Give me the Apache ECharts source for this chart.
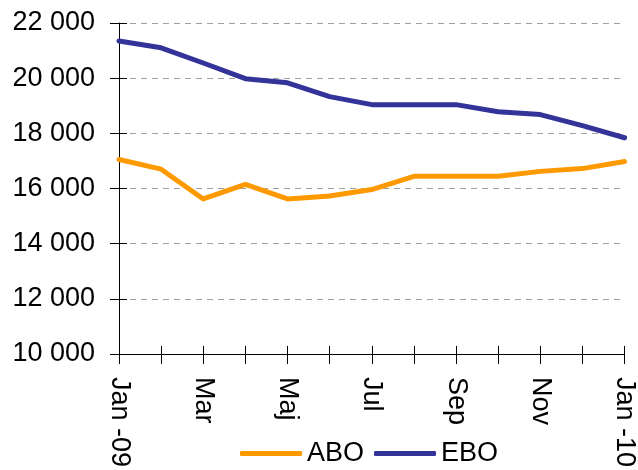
<!DOCTYPE html>
<html>
<head>
<meta charset="utf-8">
<script src="https://cdn.jsdelivr.net/npm/echarts@6/dist/echarts.min.js"></script>
<style>html,body{margin:0;padding:0;background:#fff}#c{width:638px;height:470px}</style>
</head>
<body>
<div id="c"></div>
<script>
var categories = ['Jan -09','Feb','Mar','Apr','Maj','Jun','Jul','Aug','Sep','Okt','Nov','Dec','Jan -10'];
var aboValues = [17050, 16700, 15620, 16150, 15620, 15730, 15960, 16440, 16440, 16440, 16620, 16720, 16980];
var eboValues = [21350, 21100, 20550, 19980, 19830, 19330, 19040, 19040, 19040, 18780, 18680, 18280, 17840];
var yMin = 10000, yMax = 22000, yStep = 2000;

var font = 'Liberation Sans, Arial, sans-serif';
function fmt(v){ return String(v).replace(/\B(?=(\d{3})+(?!\d))/g, ' '); }

var chart = echarts.init(document.getElementById('c'), null, {renderer:'canvas'});
chart.setOption({
  animation:false,
  backgroundColor:'#fff',
  grid:{left:119, right:10, top:23, bottom:115, containLabel:false},
  legend:{
    left:240, top:440, padding:0,
    itemWidth:62, itemHeight:5, itemGap:10,
    textStyle:{fontFamily:font, fontSize:27, color:'#000'},
    data:[{name:'ABO', icon:'roundRect'},{name:'EBO', icon:'roundRect'}]
  },
  xAxis:[{
    type:'category', data:categories, boundaryGap:false,
    axisLine:{lineStyle:{color:'#000', width:1}},
    axisTick:{show:true, inside:false, length:10, interval:0, lineStyle:{color:'#000'}},
    axisLabel:{interval:1, rotate:-90, margin:23, fontFamily:font, fontSize:27, color:'#000'},
    splitLine:{show:false}
  },{
    type:'category', data:categories, boundaryGap:false, position:'bottom',
    axisLine:{show:false},
    axisTick:{show:true, inside:true, length:8, interval:0, lineStyle:{color:'#000'}},
    axisLabel:{show:false}, splitLine:{show:false}
  }],
  yAxis:[{
    type:'value', min:yMin, max:yMax, interval:yStep,
    axisLine:{show:true, lineStyle:{color:'#000', width:1}},
    axisTick:{show:true, inside:false, length:9, lineStyle:{color:'#000'}},
    axisLabel:{margin:24, fontFamily:font, fontSize:27, color:'#000', formatter:fmt},
    splitLine:{show:true, lineStyle:{color:'#a0a0a0', type:[6,5], width:1}}
  },{
    type:'value', min:yMin, max:yMax, interval:yStep, position:'left', offset:0,
    axisLine:{show:false},
    axisTick:{show:true, inside:true, length:8, lineStyle:{color:'#000'}},
    axisLabel:{show:false}, splitLine:{show:false}
  }],
  series:[
    {name:'ABO', type:'line', data:aboValues, showSymbol:false, smooth:false,
     lineStyle:{color:'#FF9900', width:5, cap:'round', join:'round'}, itemStyle:{color:'#FF9900'}},
    {name:'EBO', type:'line', data:eboValues, showSymbol:false, smooth:false,
     lineStyle:{color:'#333399', width:5, cap:'round', join:'round'}, itemStyle:{color:'#333399'}}
  ]
});
</script>
</body>
</html>
